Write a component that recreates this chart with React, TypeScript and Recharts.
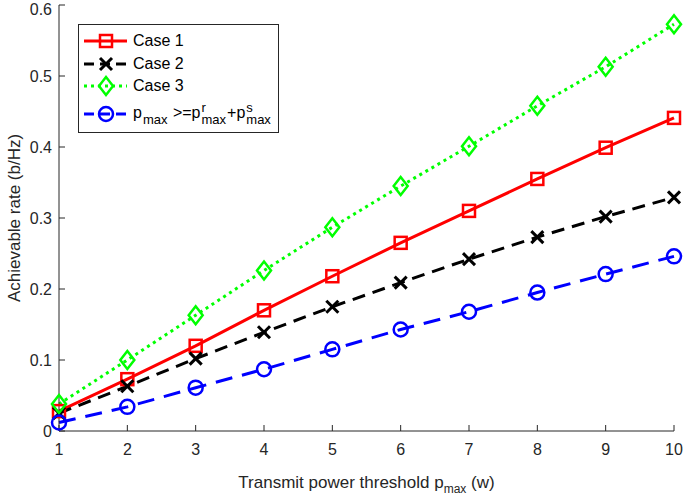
import React from "react";
import { LineChart, Line, XAxis, YAxis } from "recharts";

const power = [1, 2, 3, 4, 5, 6, 7, 8, 9, 10];
const case1 = [0.028, 0.073, 0.12, 0.17, 0.218, 0.265, 0.31, 0.355, 0.399, 0.441];
const case2 = [0.025, 0.063, 0.102, 0.139, 0.175, 0.209, 0.242, 0.273, 0.302, 0.329];
const case3 = [0.038, 0.1, 0.163, 0.226, 0.287, 0.345, 0.401, 0.458, 0.513, 0.573];
const bound = [0.012, 0.034, 0.061, 0.087, 0.115, 0.143, 0.168, 0.195, 0.221, 0.246];

const xTicks = [1, 2, 3, 4, 5, 6, 7, 8, 9, 10];
const yTicks = [0, 0.1, 0.2, 0.3, 0.4, 0.5, 0.6];

const data = power.map((p, i) => ({
  p,
  case1: case1[i],
  case2: case2[i],
  case3: case3[i],
  bound: bound[i],
}));

const FONT = "'Liberation Sans', Arial, sans-serif";
const AXIS = "#262626";

type Kind = "square" | "cross" | "diamond" | "circle";

const Marker = ({ kind, cx, cy }: { kind: Kind; cx: number; cy: number }) => {
  if (kind === "square")
    return <rect x={cx - 6} y={cy - 6} width={12} height={12} fill="none" stroke="#ff0000" strokeWidth={2.5} />;
  if (kind === "cross")
    return (
      <g stroke="#000" strokeWidth={3}>
        <line x1={cx - 6} y1={cy - 6} x2={cx + 6} y2={cy + 6} />
        <line x1={cx - 6} y1={cy + 6} x2={cx + 6} y2={cy - 6} />
      </g>
    );
  if (kind === "diamond")
    return (
      <polygon
        points={`${cx},${cy - 9} ${cx + 7},${cy} ${cx},${cy + 9} ${cx - 7},${cy}`}
        fill="none"
        stroke="#00ff00"
        strokeWidth={2.5}
      />
    );
  return <circle cx={cx} cy={cy} r={7} fill="none" stroke="#0000ff" strokeWidth={2.5} />;
};

const dot = (kind: Kind) => (props: any) => (
  <Marker key={`${kind}-${props.index}`} kind={kind} cx={props.cx} cy={props.cy} />
);

const series = [
  { key: "case1", color: "#ff0000", dash: undefined, kind: "square" as Kind, name: "Case 1" },
  { key: "case2", color: "#000000", dash: "13 8", kind: "cross" as Kind, name: "Case 2" },
  { key: "case3", color: "#00ff00", dash: "3 4", kind: "diamond" as Kind, name: "Case 3" },
  { key: "bound", color: "#0000ff", dash: "17 10", kind: "circle" as Kind, name: "" },
];

const Stack = ({ top, bottom }: { top: string; bottom: string }) => (
  <span
    style={{
      display: "inline-flex",
      flexDirection: "column",
      fontSize: 13,
      lineHeight: "12px",
      verticalAlign: "6px",
      margin: "0 1px",
    }}
  >
    <span>{top || "\u00a0"}</span>
    <span>{bottom}</span>
  </span>
);

const LegendBox = () => (
  <div
    style={{
      position: "absolute",
      left: 78,
      top: 24,
      width: 199,
      height: 107,
      border: "1px solid #262626",
      background: "#fff",
      fontFamily: FONT,
      fontSize: 16,
      color: "#000",
    }}
  >
    {series.map((s, i) => {
      const cy = [16, 39, 61, 89][i];
      return (
        <div key={s.key} style={{ position: "absolute", left: 0, top: cy - 12, height: 24, display: "flex", alignItems: "center" }}>
          <svg width={52} height={24} style={{ display: "block" }}>
            <line x1={5} y1={12} x2={48} y2={12} stroke={s.color} strokeWidth={3} strokeDasharray={s.dash ? (s.kind === "diamond" ? "3 4" : "10 6") : undefined} />
            <Marker kind={s.kind} cx={27} cy={12} />
          </svg>
          <span style={{ marginLeft: 2, whiteSpace: "nowrap" }}>
            {s.name ? (
              s.name
            ) : (
              <>
                p<Stack top="" bottom="max" /> &gt;=p<Stack top="r" bottom="max" />+p<Stack top="s" bottom="max" />
              </>
            )}
          </span>
        </div>
      );
    })}
  </div>
);

export default function App() {
  return (
    <div style={{ position: "absolute", left: 0, top: 0, width: 685, height: 497, background: "#fff" }}>
      <LineChart width={685} height={497} data={data} margin={{ top: 5, right: 11, bottom: 0, left: 0 }}>
        <XAxis
          dataKey="p"
          type="number"
          domain={[1, 10]}
          ticks={xTicks}
          height={66}
          stroke={AXIS}
          tickSize={-6}
          tickMargin={19}
          tick={{ fill: AXIS, fontSize: 16, fontFamily: FONT }}
          label={(props: any) => {
            const vb = props.viewBox;
            return (
              <text x={vb.x + vb.width / 2} y={488} textAnchor="middle" fill={AXIS} fontSize={17} fontFamily={FONT}>
                <tspan>Transmit power threshold p</tspan>
                <tspan dy={5} fontSize={12}>max</tspan>
                <tspan dy={-5}> (w)</tspan>
              </text>
            );
          }}
        />
        <XAxis
          xAxisId="top"
          orientation="top"
          dataKey="p"
          type="number"
          domain={[1, 10]}
          ticks={xTicks}
          height={0}
          stroke={AXIS}
          tickSize={-6}
          tick={false}
        />
        <YAxis
          type="number"
          domain={[0, 0.6]}
          ticks={yTicks}
          width={59}
          stroke={AXIS}
          tickSize={-6}
          tickMargin={13}
          tick={{ fill: AXIS, fontSize: 16, fontFamily: FONT }}
          label={(props: any) => {
            const vb = props.viewBox;
            const cy = vb.y + vb.height / 2;
            return (
              <text
                x={14}
                y={cy}
                textAnchor="middle"
                dominantBaseline="central"
                transform={`rotate(-90, 14, ${cy})`}
                fill={AXIS}
                fontSize={17}
                fontFamily={FONT}
              >
                Achievable rate (b/Hz)
              </text>
            );
          }}
        />
        <YAxis
          yAxisId="right"
          orientation="right"
          type="number"
          domain={[0, 0.6]}
          ticks={yTicks}
          width={0}
          stroke={AXIS}
          tickSize={-6}
          tick={false}
        />
        {series.map((s) => (
          <Line
            key={s.key}
            type="linear"
            dataKey={s.key}
            stroke={s.color}
            strokeWidth={3}
            strokeDasharray={s.dash}
            dot={dot(s.kind)}
            activeDot={false}
            isAnimationActive={false}
          />
        ))}
      </LineChart>
      <LegendBox />
    </div>
  );
}
